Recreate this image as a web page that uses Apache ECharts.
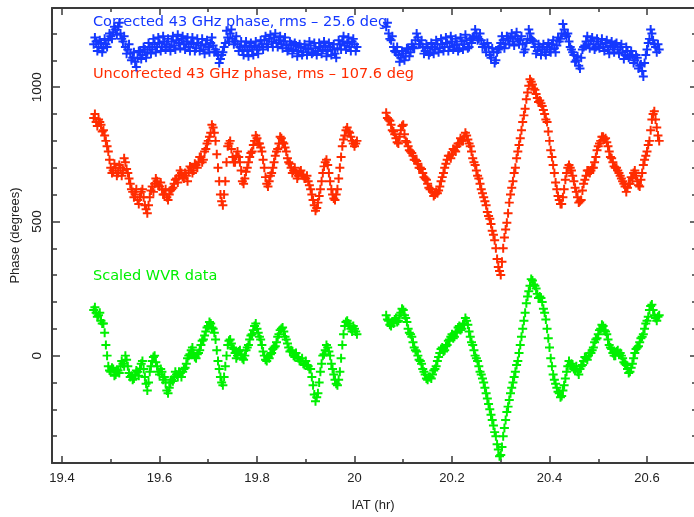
<!DOCTYPE html>
<html>
<head>
<meta charset="utf-8">
<script src="https://cdn.jsdelivr.net/npm/echarts@6/dist/echarts.min.js"></script>
<style>
html,body{margin:0;padding:0;background:#fff;overflow:hidden;}
#chart{width:694px;height:517px;}
</style>
</head>
<body>
<div id="chart"></div>
<script>
// ---- data ----
// sample times (hr), first block and the half-step samples between them
const times1 = [
19.465,19.470,19.475,19.480,19.485,19.490,19.495,19.500,19.505,19.510,
19.515,19.520,19.525,19.530,19.535,19.540,19.545,19.550,19.555,19.560,
19.565,19.570,19.575,19.580,19.585,19.590,19.595,19.600,19.605,19.610,
19.615,19.620,19.625,19.630,19.635,19.640,19.645,19.650,19.655,19.660,
19.665,19.670,19.675,19.680,19.685,19.690,19.695,19.700,19.705,19.710,
19.715,19.720,19.725,19.730,19.735,19.740,19.745,19.750,19.755,19.760,
19.765,19.770,19.775,19.780,19.785,19.790,19.795,19.800,19.805,19.810,
19.815,19.820,19.825,19.830,19.835,19.840,19.845,19.850,19.855,19.860,
19.865,19.870,19.875,19.880,19.885,19.890,19.895,19.900,19.905,19.910,
19.915,19.920,19.925,19.930,19.935,19.940,19.945,19.950,19.955,19.960,
19.965,19.970,19.975,19.980,19.985,19.990,19.995,20.000,20.005
];
const times1b = [
19.4675,19.4725,19.4775,19.4825,19.4875,19.4925,19.4975,19.5025,19.5075,19.5125,
19.5175,19.5225,19.5275,19.5325,19.5375,19.5425,19.5475,19.5525,19.5575,19.5625,
19.5675,19.5725,19.5775,19.5825,19.5875,19.5925,19.5975,19.6025,19.6075,19.6125,
19.6175,19.6225,19.6275,19.6325,19.6375,19.6425,19.6475,19.6525,19.6575,19.6625,
19.6675,19.6725,19.6775,19.6825,19.6875,19.6925,19.6975,19.7025,19.7075,19.7125,
19.7175,19.7225,19.7275,19.7325,19.7375,19.7425,19.7475,19.7525,19.7575,19.7625,
19.7675,19.7725,19.7775,19.7825,19.7875,19.7925,19.7975,19.8025,19.8075,19.8125,
19.8175,19.8225,19.8275,19.8325,19.8375,19.8425,19.8475,19.8525,19.8575,19.8625,
19.8675,19.8725,19.8775,19.8825,19.8875,19.8925,19.8975,19.9025,19.9075,19.9125,
19.9175,19.9225,19.9275,19.9325,19.9375,19.9425,19.9475,19.9525,19.9575,19.9625,
19.9675,19.9725,19.9775,19.9825,19.9875,19.9925,19.9975,20.0025
];
const times2 = [
20.065,20.070,20.075,20.080,20.085,20.090,20.095,20.100,20.105,20.110,
20.115,20.120,20.125,20.130,20.135,20.140,20.145,20.150,20.155,20.160,
20.165,20.170,20.175,20.180,20.185,20.190,20.195,20.200,20.205,20.210,
20.215,20.220,20.225,20.230,20.235,20.240,20.245,20.250,20.255,20.260,
20.265,20.270,20.275,20.280,20.285,20.290,20.295,20.300,20.305,20.310,
20.315,20.320,20.325,20.330,20.335,20.340,20.345,20.350,20.355,20.360,
20.365,20.370,20.375,20.380,20.385,20.390,20.395,20.400,20.405,20.410,
20.415,20.420,20.425,20.430,20.435,20.440,20.445,20.450,20.455,20.460,
20.465,20.470,20.475,20.480,20.485,20.490,20.495,20.500,20.505,20.510,
20.515,20.520,20.525,20.530,20.535,20.540,20.545,20.550,20.555,20.560,
20.565,20.570,20.575,20.580,20.585,20.590,20.595,20.600,20.605,20.610,
20.615,20.620,20.625
];
const times2b = [
20.0675,20.0725,20.0775,20.0825,20.0875,20.0925,20.0975,20.1025,20.1075,20.1125,
20.1175,20.1225,20.1275,20.1325,20.1375,20.1425,20.1475,20.1525,20.1575,20.1625,
20.1675,20.1725,20.1775,20.1825,20.1875,20.1925,20.1975,20.2025,20.2075,20.2125,
20.2175,20.2225,20.2275,20.2325,20.2375,20.2425,20.2475,20.2525,20.2575,20.2625,
20.2675,20.2725,20.2775,20.2825,20.2875,20.2925,20.2975,20.3025,20.3075,20.3125,
20.3175,20.3225,20.3275,20.3325,20.3375,20.3425,20.3475,20.3525,20.3575,20.3625,
20.3675,20.3725,20.3775,20.3825,20.3875,20.3925,20.3975,20.4025,20.4075,20.4125,
20.4175,20.4225,20.4275,20.4325,20.4375,20.4425,20.4475,20.4525,20.4575,20.4625,
20.4675,20.4725,20.4775,20.4825,20.4875,20.4925,20.4975,20.5025,20.5075,20.5125,
20.5175,20.5225,20.5275,20.5325,20.5375,20.5425,20.5475,20.5525,20.5575,20.5625,
20.5675,20.5725,20.5775,20.5825,20.5875,20.5925,20.5975,20.6025,20.6075,20.6125,
20.6175,20.6225
];

// Corrected 43 GHz phase (deg, plotted with offset)
const corrected1 = [
1160,1170,1150,1165,1145,1160,1175,1190,1205,1215,
1225,1200,1170,1150,1140,1125,1110,1095,1110,1130,
1120,1140,1130,1150,1140,1160,1150,1165,1150,1170,
1160,1150,1170,1155,1175,1165,1180,1160,1170,1150,
1165,1160,1145,1165,1155,1140,1160,1150,1165,1155,
1140,1120,1105,1130,1165,1185,1200,1180,1170,1160,
1150,1140,1155,1135,1150,1140,1155,1140,1150,1160,
1175,1160,1180,1170,1185,1165,1175,1160,1170,1155,
1145,1160,1140,1155,1135,1150,1130,1145,1140,1155,
1130,1145,1135,1150,1140,1155,1135,1150,1140,1125,
1145,1160,1170,1155,1165,1150,1170,1160,1150
];
const corrected1b = [
1185,1135,1175,1130,1180,1150,1200,1180,1225,1195,
1240,1180,1190,1125,1160,1100,1130,1075,1135,1105,
1150,1110,1165,1125,1180,1130,1185,1135,1190,1140,
1180,1135,1190,1140,1195,1145,1190,1140,1185,1135,
1185,1135,1180,1135,1180,1125,1175,1130,1185,1130,
1130,1090,1120,1150,1210,1170,1215,1160,1190,1135,
1170,1120,1170,1115,1165,1120,1170,1125,1175,1140,
1190,1150,1195,1150,1200,1150,1190,1145,1185,1135,
1170,1125,1165,1115,1160,1120,1160,1120,1170,1125,
1165,1120,1165,1125,1170,1115,1165,1120,1160,1110,
1175,1140,1190,1140,1185,1135,1180,1135
];
const corrected2 = [
1225,1200,1175,1150,1130,1120,1110,1125,1115,1140,
1130,1150,1175,1185,1160,1150,1135,1145,1130,1150,
1140,1160,1145,1160,1150,1165,1150,1170,1155,1160,
1145,1170,1160,1175,1150,1165,1190,1200,1180,1175,
1160,1130,1150,1110,1130,1100,1140,1165,1175,1160,
1180,1185,1170,1190,1180,1175,1160,1140,1180,1200,
1175,1150,1135,1150,1140,1130,1150,1140,1160,1145,
1155,1170,1200,1215,1190,1170,1140,1120,1100,1080,
1110,1150,1170,1160,1175,1160,1150,1170,1160,1150,
1165,1140,1155,1150,1160,1140,1150,1130,1120,1135,
1115,1120,1100,1110,1080,1060,1090,1140,1180,1200,
1160,1130,1140
];
const corrected2b = [
1240,1180,1190,1135,1150,1095,1135,1100,1145,1115,
1160,1145,1200,1160,1175,1125,1160,1120,1165,1125,
1175,1130,1180,1135,1185,1135,1190,1140,1180,1135,
1185,1140,1195,1145,1180,1185,1215,1175,1200,1150,
1150,1165,1120,1145,1090,1130,1150,1190,1145,1190,
1160,1200,1155,1205,1160,1190,1130,1165,1215,1180,
1170,1125,1160,1120,1160,1120,1165,1130,1175,1130,
1185,1180,1235,1195,1200,1150,1130,1095,1115,1070,
1140,1155,1190,1145,1185,1140,1180,1145,1180,1135,
1175,1125,1170,1130,1165,1125,1160,1105,1150,1110,
1135,1090,1120,1070,1085,1040,1120,1165,1215,1175,
1150,1160
];

// Uncorrected 43 GHz phase (deg, plotted with offset)
const uncorrected1 = [
885,870,880,860,840,800,760,700,690,700,
680,700,690,720,680,640,610,600,580,590,
620,560,530,590,630,640,650,630,620,600,
590,600,620,640,660,670,680,660,670,690,
700,690,710,720,740,730,770,800,830,850,
800,700,600,560,650,780,800,740,720,760,
720,650,660,700,740,760,800,810,790,760,
700,640,650,680,720,760,790,810,790,760,
720,700,690,680,670,690,670,660,650,620,
580,540,570,620,680,720,710,650,600,580,
620,700,780,820,850,830,800,780,800
];
const uncorrected1b = [
900,855,870,835,820,780,730,680,715,670,
710,670,735,695,660,620,590,620,565,610,
590,545,560,615,610,660,635,645,600,620,
580,615,625,655,645,690,665,680,650,705,
680,715,700,740,720,760,790,815,860,830,
750,650,575,600,720,790,770,720,745,740,
690,640,685,720,755,785,820,790,775,730,
665,630,670,700,745,770,815,795,775,735,
715,680,700,660,685,675,660,670,635,600,
560,550,595,650,705,730,680,620,585,600,
660,740,805,840,835,815,790,790
];
const uncorrected2 = [
905,880,860,835,810,790,840,860,800,780,
760,745,730,715,700,680,660,640,620,610,
600,605,630,665,700,730,745,750,765,780,
790,800,815,820,790,760,720,690,660,620,
590,560,520,490,450,400,330,300,400,470,
530,600,650,700,760,810,870,920,980,1030,
1010,990,960,950,930,900,870,800,740,680,
620,580,565,620,680,710,690,650,610,570,
580,640,670,690,690,700,740,780,800,815,
810,780,740,720,700,690,670,650,630,625,
640,660,690,650,630,680,730,760,800,880,
910,850,800
];
const uncorrected2b = [
885,875,840,825,795,815,855,825,795,765,
755,730,725,700,695,665,655,625,620,595,
610,615,650,680,715,745,735,770,760,790,
810,800,830,805,780,735,710,670,640,605,
575,535,510,465,430,360,315,350,440,495,
570,625,680,735,785,840,895,955,1005,1020,
995,975,945,940,915,880,835,765,710,645,
595,565,590,655,700,700,670,625,590,575,
615,655,690,680,700,720,765,790,815,805,
795,760,735,705,700,680,660,640,610,640,
665,680,670,635,655,710,745,785,840,900,
880,820
];

// Scaled WVR data (deg)
const wvr1 = [
170,160,150,130,120,40,-40,-60,-50,-70,
-55,-40,-30,0,-40,-80,-90,-70,-60,-50,
-20,-80,-130,-60,-20,0,-40,-70,-60,-80,
-130,-120,-90,-80,-70,-60,-80,-50,-30,0,
20,10,-10,10,40,60,90,110,120,100,
60,-20,-80,-110,-40,40,60,30,10,0,
20,-10,0,30,60,80,110,100,70,40,
0,-20,-10,10,30,50,80,100,90,60,
30,20,0,10,-10,-20,-30,-20,-40,-50,
-110,-170,-140,-60,0,20,30,0,-50,-90,
-110,-60,40,110,130,110,90,100,80
];
const wvr1b = [
180,145,160,120,85,0,-55,-45,-75,-55,
-65,-20,-40,-15,-65,-75,-85,-55,-75,-30,
-50,-105,-100,-40,-5,-25,-60,-50,-90,-100,
-140,-100,-95,-60,-80,-65,-60,-45,-10,5,
30,-5,5,20,55,75,105,125,105,85,
20,-50,-100,-80,0,55,45,25,-10,15,
5,-15,20,40,75,95,120,85,60,15,
-15,-5,5,25,35,70,95,105,70,45,
15,15,-5,-5,-20,-10,-35,-35,-50,-80,
-145,-155,-100,-30,5,40,15,-30,-70,-105,
-90,-10,80,125,120,100,110,90
];
const wvr2 = [
150,130,110,120,140,130,160,170,140,100,
80,50,20,0,-20,-50,-70,-90,-80,-70,
-50,-20,10,30,20,40,60,80,70,90,
110,100,120,130,90,50,20,-10,-40,-70,
-100,-140,-180,-220,-260,-300,-350,-370,-300,-240,
-190,-140,-100,-60,-20,40,100,160,220,260,
280,260,230,220,200,160,100,30,-40,-90,
-120,-140,-150,-110,-60,-20,-30,-50,-40,-70,
-40,-20,-10,0,10,30,60,80,100,110,
90,60,30,10,0,20,10,-10,-30,-50,
-60,-30,10,30,50,70,100,130,170,190,
150,130,150
];
const wvr2b = [
135,115,125,135,125,150,175,150,125,85,
70,30,15,-15,-30,-60,-85,-80,-85,-55,
-40,-5,25,15,35,55,70,65,85,105,
95,115,140,115,70,40,0,-20,-60,-85,
-120,-160,-200,-240,-285,-330,-375,-340,-270,-210,
-165,-120,-80,-35,10,70,130,195,240,285,
265,250,215,215,175,135,65,-10,-70,-105,
-135,-155,-130,-85,-40,-35,-40,-55,-60,-50,
-35,-5,-15,10,20,50,65,95,115,95,
80,40,25,0,15,5,0,-25,-35,-65,
-45,-10,25,35,65,80,120,145,185,170,
140,145
];

const xMajorTicks = [19.4, 19.6, 19.8, 20.0, 20.2, 20.4, 20.6];
const xMinorTicks = [19.5, 19.7, 19.9, 20.1, 20.3, 20.5];
const yMajorTicks = [0, 500, 1000];
const yMinorTicks = [-300, -200, -100, 100, 200, 300, 400, 600, 700, 800, 900, 1100, 1200];

const labels = {
  corrected: 'Corrected 43 GHz phase, rms \u2013 25.6 deg',
  uncorrected: 'Uncorrected 43 GHz phase, rms \u2013 107.6 deg',
  wvr: 'Scaled WVR data',
  xName: 'IAT (hr)',
  yName: 'Phase (degrees)'
};

const COLORS = { blue: '#1438ff', red: '#ff2c00', green: '#00f000' };

// ---- chart ----
function pairs(ts, vs) { return ts.map((t, i) => [t, vs[i]]); }
const PLUS = 'path://M3.9,0H6.1V3.9H10V6.1H6.1V10H3.9V6.1H0V3.9H3.9Z';
const FONT = 'Liberation Sans, Arial, sans-serif';
const NOTE_FONT = '14.5px DejaVu Sans, Verdana, sans-serif';
const AX = '#3a3a3a';
const X_MIN = 19.3795, X_MAX = 20.6964, Y_MIN = -400, Y_MAX = 1295;

function xAx(pos, ticks, len, showLine, showLabel) {
  return {
    type: 'value', position: pos, min: X_MIN, max: X_MAX,
    axisLine: { show: showLine, onZero: false, lineStyle: { color: AX, width: 2 } },
    axisTick: { show: true, inside: true, length: len, customValues: ticks, lineStyle: { color: AX, width: 1.5 } },
    axisLabel: showLabel ? { show: true, customValues: ticks, margin: 9, color: '#222', fontSize: 13, fontFamily: FONT,
      formatter: v => String(Math.round(v * 10) / 10) } : { show: false },
    splitLine: { show: false }
  };
}
function yAx(pos, ticks, len, showLine, showLabel) {
  return {
    type: 'value', position: pos, min: Y_MIN, max: Y_MAX,
    axisLine: { show: showLine, onZero: false, lineStyle: { color: AX, width: 2 } },
    axisTick: { show: true, inside: true, length: len, customValues: ticks, lineStyle: { color: AX, width: 1.5 } },
    axisLabel: showLabel ? { show: true, customValues: ticks, rotate: 90, margin: 8, color: '#222', fontSize: 13.5, fontFamily: FONT,
      formatter: v => String(v) } : { show: false },
    splitLine: { show: false }
  };
}

const xAxes = [
  Object.assign(xAx('bottom', xMajorTicks, 7, true, true), {
    name: labels.xName, nameLocation: 'middle', nameGap: 36,
    nameTextStyle: { color: '#222', fontSize: 13, fontFamily: FONT }
  }),
  xAx('bottom', xMinorTicks, 4, false, false),
  xAx('top', xMajorTicks, 7, true, false),
  xAx('top', xMinorTicks, 4, false, false)
];
const yAxes = [
  Object.assign(yAx('left', yMajorTicks, 8, true, true), {
    name: labels.yName, nameLocation: 'middle', nameGap: 20, nameRotate: 90,
    nameTextStyle: { color: '#222', fontSize: 13, fontFamily: FONT }
  }),
  yAx('left', yMinorTicks, 5, false, false),
  yAx('right', yMajorTicks, 4, false, false),
  yAx('right', yMinorTicks, 2, false, false)
];

function sc(name, data, color) {
  return {
    name, type: 'scatter', xAxisIndex: 0, yAxisIndex: 0, data,
    symbol: PLUS, symbolSize: 9, itemStyle: { color, opacity: 1 },
    emphasis: { disabled: true }, silent: true, large: false
  };
}

const chart = echarts.init(document.getElementById('chart'), null, { renderer: 'canvas' });
chart.setOption({
  animation: false,
  backgroundColor: '#fff',
  grid: { left: 52, right: 0, top: 8, bottom: 51, containLabel: false },
  xAxis: xAxes,
  yAxis: yAxes,
  series: [
    sc('corrected', pairs(times1, corrected1).concat(pairs(times1b, corrected1b), pairs(times2, corrected2), pairs(times2b, corrected2b)), COLORS.blue),
    sc('uncorrected', pairs(times1, uncorrected1).concat(pairs(times1b, uncorrected1b), pairs(times2, uncorrected2), pairs(times2b, uncorrected2b)), COLORS.red),
    sc('wvr', pairs(times1, wvr1).concat(pairs(times1b, wvr1b), pairs(times2, wvr2), pairs(times2b, wvr2b)), COLORS.green)
  ],
  graphic: [
    { type: 'text', left: 93, top: 15, style: { text: labels.corrected, fill: COLORS.blue, font: NOTE_FONT } },
    { type: 'text', left: 93, top: 67, style: { text: labels.uncorrected, fill: COLORS.red, font: NOTE_FONT } },
    { type: 'text', left: 93, top: 269, style: { text: labels.wvr, fill: COLORS.green, font: NOTE_FONT } }
  ]
});
</script>
</body>
</html>
